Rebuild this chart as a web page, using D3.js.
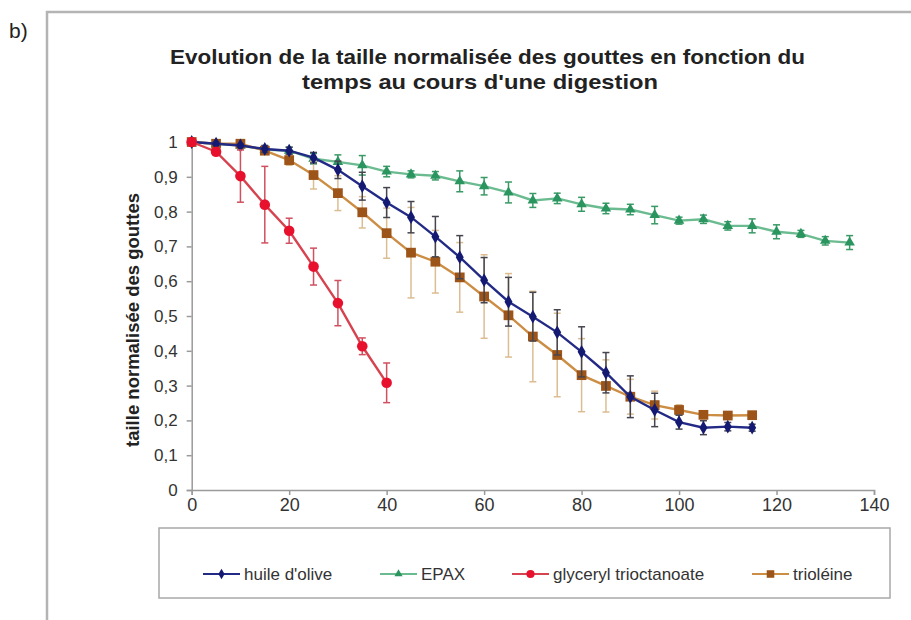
<!DOCTYPE html>
<html>
<head>
<meta charset="utf-8">
<script src="https://cdn.jsdelivr.net/npm/d3@7"></script>
<style>
  body { margin: 0; background: #fff; font-family: "Liberation Sans", Arial, sans-serif; }
  svg { display: block; }
</style>
</head>
<body>
<script>
// time (min) for each sample, 5 min step
var timeOlive = [0,5,10,15,20,25,30,35,40,45,50,55,60,65,70,75,80,85,90,95,100,105,110,115];
var timeEpax = [0,5,10,15,20,25,30,35,40,45,50,55,60,65,70,75,80,85,90,95,100,105,110,115,120,125,130,135];
var timeGly = [0,5,10,15,20,25,30,35,40];
var timeTrio = timeOlive;

// normalised droplet size + error
var olive = [1,0.995,0.99,0.98,0.975,0.955,0.92,0.873,0.826,0.784,0.728,0.669,0.603,0.541,0.498,0.453,0.397,0.337,0.268,0.23,0.195,0.179,0.182,0.179];
var oliveErr = [0,0.005,0.005,0.01,0.01,0.015,0.025,0.04,0.043,0.045,0.058,0.062,0.065,0.07,0.07,0.065,0.072,0.058,0.06,0.048,0.02,0.02,0.012,0.01];
var epax = [1,0.995,0.99,0.978,0.975,0.952,0.943,0.933,0.915,0.907,0.903,0.887,0.873,0.855,0.832,0.838,0.821,0.809,0.806,0.79,0.774,0.778,0.759,0.759,0.742,0.736,0.716,0.711];
var epaxErr = [0,0.005,0.01,0.01,0.01,0.015,0.02,0.028,0.015,0.01,0.012,0.03,0.025,0.03,0.02,0.015,0.02,0.015,0.015,0.025,0.01,0.012,0.012,0.02,0.02,0.01,0.012,0.02];
var gly = [1,0.972,0.902,0.82,0.745,0.642,0.537,0.413,0.308];
var glyErr = [0,0.01,0.075,0.11,0.036,0.053,0.065,0.024,0.057];
var trio = [1,0.995,0.995,0.975,0.948,0.905,0.853,0.798,0.738,0.682,0.656,0.611,0.556,0.502,0.441,0.388,0.33,0.299,0.268,0.244,0.23,0.216,0.214,0.215];
var trioErr = [0,0.005,0.005,0.01,0.015,0.04,0.05,0.045,0.072,0.13,0.09,0.1,0.12,0.12,0.13,0.12,0.105,0.075,0.05,0.04,0.015,0.01,0.01,0.01];

var seriesNames = ["huile d'olive","EPAX","glyceryl trioctanoate","trioléine"];
var xTicks = [0,20,40,60,80,100,120,140];
var yTicks = [0,0.1,0.2,0.3,0.4,0.5,0.6,0.7,0.8,0.9,1];
var titleLines = ["Evolution de la taille normalisée des gouttes en fonction du","temps au cours d'une digestion"];

var W = 911, H = 620;
var svg = d3.select("body").append("svg").attr("width",W).attr("height",H);

// outer frame (only top and left edges visible)
svg.append("path")
  .attr("d","M47,620 L47,12 L911,12")
  .attr("fill","none").attr("stroke","#b4b4b4").attr("stroke-width",2.5);

svg.append("text").attr("x",9).attr("y",38)
  .attr("font-size",21).attr("fill","#222").text("b)");

// title, stretched to the width seen in the picture
var titleBox = [[170,64,635],[302,89,356]];
titleLines.forEach(function(t,i){
  svg.append("text").attr("x",titleBox[i][0]).attr("y",titleBox[i][1])
    .attr("font-weight","bold").attr("font-size",20.5).attr("fill","#222")
    .attr("textLength",titleBox[i][2]).attr("lengthAdjust","spacingAndGlyphs")
    .text(t);
});

var x = d3.scaleLinear().domain([0,140]).range([191.7,874]);
var y = d3.scaleLinear().domain([0,1]).range([490,142]);
var fmt = function(d){ return String(d).replace(".",","); };

var xAxis = svg.append("g").attr("transform","translate(0,490)")
  .call(d3.axisBottom(x).tickValues(xTicks).tickSize(5).tickPadding(3).tickFormat(d3.format("d")));
var yAxis = svg.append("g").attr("transform","translate(191.7,0)")
  .call(d3.axisLeft(y).tickValues(yTicks).tickSize(5).tickPadding(9).tickFormat(fmt));
[xAxis,yAxis].forEach(function(a){
  a.select(".domain").attr("stroke","#9a9a9a").attr("stroke-width",1.5);
  a.selectAll(".tick line").attr("stroke","#9a9a9a").attr("stroke-width",1.5);
  a.selectAll(".tick text").attr("fill","#333")
    .attr("font-family","'Liberation Sans', Arial, sans-serif");
});
xAxis.selectAll(".tick text").attr("font-size",18);
yAxis.selectAll(".tick text").attr("font-size",17);

svg.append("text")
  .attr("transform","translate(139,320) rotate(-90)")
  .attr("text-anchor","middle").attr("font-weight","bold")
  .attr("font-size",18.5).attr("fill","#222")
  .text("taille normalisée des gouttes");

var series = [
  {name:seriesNames[1], t:timeEpax, v:epax, e:epaxErr, line:"#6bbb90", mark:"#2b9560", err:"#3a9a66", shape:d3.symbolTriangle, size:48},
  {name:seriesNames[3], t:timeTrio, v:trio, e:trioErr, line:"#cc8d44", mark:"#9c5418", err:"#dcbd92", shape:d3.symbolSquare, size:95},
  {name:seriesNames[0], t:timeOlive, v:olive, e:oliveErr, line:"#232a85", mark:"#141a72", err:"#45454f", shape:d3.symbolDiamond, size:55},
  {name:seriesNames[2], t:timeGly, v:gly, e:glyErr, line:"#d7424f", mark:"#e8112d", err:"#d05060", shape:d3.symbolCircle, size:88}
];

var line = d3.line().x(function(d){ return x(d[0]); }).y(function(d){ return y(d[1]); });

series.forEach(function(s){
  var pts = s.t.map(function(t,i){ return [t, s.v[i], s.e[i]]; });
  var g = svg.append("g");
  // error bars
  var eb = g.selectAll(".err").data(pts.filter(function(d){ return d[2] > 0; })).enter().append("g")
    .attr("stroke",s.err).attr("stroke-width",1.5);
  eb.append("line")
    .attr("x1",function(d){ return x(d[0]); }).attr("x2",function(d){ return x(d[0]); })
    .attr("y1",function(d){ return y(d[1]+d[2]); }).attr("y2",function(d){ return y(d[1]-d[2]); });
  eb.append("line")
    .attr("x1",function(d){ return x(d[0])-3.5; }).attr("x2",function(d){ return x(d[0])+3.5; })
    .attr("y1",function(d){ return y(d[1]+d[2]); }).attr("y2",function(d){ return y(d[1]+d[2]); });
  eb.append("line")
    .attr("x1",function(d){ return x(d[0])-3.5; }).attr("x2",function(d){ return x(d[0])+3.5; })
    .attr("y1",function(d){ return y(d[1]-d[2]); }).attr("y2",function(d){ return y(d[1]-d[2]); });
  g.append("path").datum(pts).attr("d",line)
    .attr("fill","none").attr("stroke",s.line).attr("stroke-width",2.4);
  g.selectAll(".mk").data(pts).enter().append("path")
    .attr("d",d3.symbol().type(s.shape).size(s.size))
    .attr("transform",function(d){ return "translate("+x(d[0])+","+y(d[1])+")"; })
    .attr("fill",s.mark);
});

// legend
svg.append("rect").attr("x",159).attr("y",528).attr("width",731).attr("height",70)
  .attr("fill","#fff").attr("stroke","#a8a8a8").attr("stroke-width",1.5);
var legendX = [203, 380, 512, 752];
var order = [2,0,3,1];
order.forEach(function(si,k){
  var s = series[si];
  var lg = svg.append("g").attr("transform","translate("+legendX[k]+",574)");
  lg.append("line").attr("x1",0).attr("x2",37).attr("stroke",s.line).attr("stroke-width",2);
  lg.append("path").attr("d",d3.symbol().type(s.shape).size(s.size*0.6))
    .attr("transform","translate(18.5,0)").attr("fill",s.mark);
  lg.append("text").attr("x",41).attr("y",6).attr("font-size",17).attr("fill","#333").text(s.name);
});
</script>
</body>
</html>
